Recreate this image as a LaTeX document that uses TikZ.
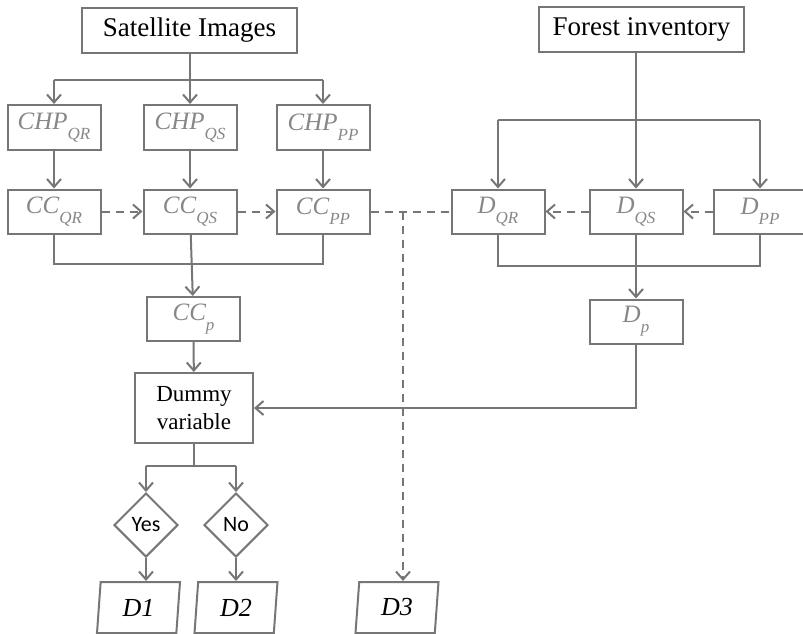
\documentclass[tikz,border=0pt]{standalone}
\usepackage{fontspec}
\setmainfont{Liberation Serif}
\newfontfamily\yesnofont{Carlito}
\usetikzlibrary{arrows.meta,shapes.geometric,calc}
\definecolor{linegray}{RGB}{118,118,118}
\definecolor{textgray}{RGB}{135,135,135}
\newcommand{\sbs}[1]{\raisebox{-0.4em}{\fontsize{17}{19}\selectfont #1}}
\tikzstyle{databox}=[rectangle,draw=linegray,line width=2pt,minimum width=93pt,minimum height=44pt,inner sep=0pt,text=textgray,font=\fontsize{25}{29}\selectfont\itshape]
\tikzstyle{sourcebox}=[rectangle,draw=linegray,line width=2pt,minimum height=45pt,inner sep=0pt,font=\fontsize{27}{31}\selectfont]
\tikzstyle{decision}=[diamond,draw=linegray,line width=2pt,minimum width=64pt,minimum height=64pt,inner sep=0pt,font=\yesnofont\fontsize{22}{26}\selectfont]
\tikzstyle{result}=[trapezium,trapezium left angle=78,trapezium right angle=102,trapezium stretches body,draw=linegray,line width=2pt,minimum width=83pt,minimum height=51pt,inner sep=0pt,font=\fontsize{26}{30}\selectfont\itshape]
\tikzstyle{plainline}=[draw=linegray,line width=2pt]
\tikzstyle{edge}=[plainline,-{Straight Barb[length=8pt,width=14pt]}]
\tikzstyle{dashline}=[plainline,dash pattern=on 8pt off 6pt]
\tikzstyle{dashedge}=[edge,dash pattern=on 8pt off 6pt]

\begin{document}
\begin{tikzpicture}[x=1pt,y=-1pt]
    \useasboundingbox (0,0) rectangle (803,634);

    % the two sources
    \node[sourcebox,minimum width=215pt] (sat) at (189.5,30.5) {Satellite Images};
    \node[sourcebox,minimum width=205pt] (forest) at (641.5,29.5) {Forest inventory};

    % crown height and crown cover boxes
    \foreach \x/\name/\sub in {54/qr/QR, 190/qs/QS, 323/pp/PP} {
        \node[databox,minimum height=45pt] (chp\name) at (\x,127.5) {CHP\sbs{\sub}};
        \node[databox] (cc\name) at (\x,211.5) {CC\sbs{\sub}};
    }
    % inventory boxes
    \foreach \x/\name/\sub in {498/qr/QR, 636/qs/QS, 760/pp/PP}
        \node[databox] (d\name) at (\x,211.5) {D\sbs{\sub}};

    \node[databox] (ccp) at (193.5,319) {CC\sbs{p}};
    \node[databox] (dp) at (636,321.5) {D\sbs{p}};
    \node[sourcebox,minimum width=118pt,minimum height=70pt,align=center,font=\fontsize{23}{28}\selectfont] (dummy) at (194,408) {Dummy\\variable};

    \node[decision] (yes) at (146,525) {Yes};
    \node[decision] (no) at (236,525) {No};
    \node[result] (d1) at (138.5,607.5) {D1};
    \node[result] (d2) at (236,607.5) {D2};
    \node[result] (d3) at (397,607.5) {D3};
    \coordinate (split) at (403,211.5);

    % left side
    \draw[plainline] (sat) -- (sat |- 0,80);
    \draw[plainline] (chpqr |- 0,80) -- (chppp |- 0,80);
    \foreach \name in {qr,qs,pp} {
        \draw[edge] (chp\name |- 0,80) -- (chp\name);
        \draw[edge] (chp\name) -- (cc\name);
    }
    \draw[dashedge] (ccqr) -- (ccqs);
    \draw[dashedge] (ccqs) -- (ccpp);
    \draw[plainline] (ccqr) -- (ccqr |- 0,264) -- (ccpp |- 0,264) -- (ccpp);
    \draw[edge] (ccqs) -- (ccp);
    \draw[edge] (ccp) -- (dummy);

    % right side
    \draw[edge] (forest.south -| dqs) -- (dqs);
    \draw[plainline] (dqr |- 0,120) -- (dpp |- 0,120);
    \draw[edge] (dqr |- 0,120) -- (dqr);
    \draw[edge] (dpp |- 0,120) -- (dpp);
    \draw[dashedge] (dqs) -- (dqr);
    \draw[dashedge] (dpp) -- (dqs);
    \draw[plainline] (dqr) -- (dqr |- 0,266) -- (dpp |- 0,266) -- (dpp);
    \draw[edge] (dqs) -- (dp);
    \draw[edge] (dp) |- (dummy);

    % dashed link to D3
    \draw[dashline] (ccpp) -- (split) -- (dqr);
    \draw[dashedge] (split) -- (split |- d3.north);

    % decision branch
    \draw[plainline] (dummy) -- (dummy |- 0,466);
    \draw[plainline] (yes |- 0,466) -- (no |- 0,466);
    \draw[edge] (yes |- 0,466) -- (yes);
    \draw[edge] (no |- 0,466) -- (no);
    \draw[edge] (yes) -- (yes |- d1.north);
    \draw[edge] (no) -- (no |- d2.north);
\end{tikzpicture}
\end{document}
